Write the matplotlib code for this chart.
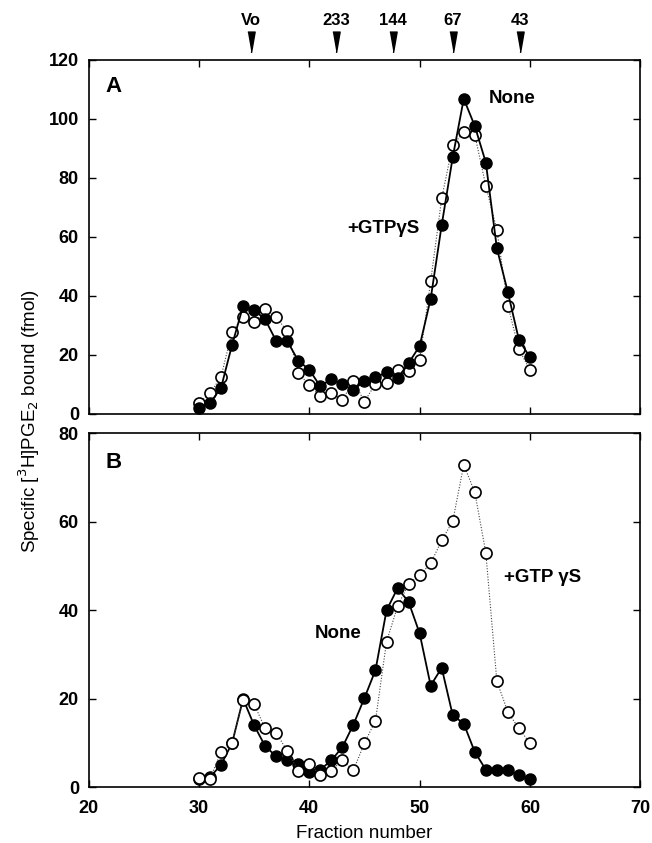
import numpy as np
import matplotlib
matplotlib.use("Agg")
from matplotlib import pyplot as plt
from matplotlib import transforms

plt.rcParams['font.family'] = ['Liberation Sans', 'DejaVu Sans']

# Fraction numbers (same for every series)
fractions = np.arange(30, 61)

# Panel A: specific binding (fmol)
a_none = [1.9, 3.6, 8.9, 23.4, 36.6, 35.3, 32.0, 24.7, 24.7, 18.0, 15.0,
          9.3, 11.9, 10.0, 8.1, 11.2, 12.4, 14.1, 12.1, 17.2, 23.0,
          39.0, 64.0, 87.0, 106.8, 97.6, 85.2, 56.2, 41.2, 25.1, 19.2]
a_gtp = [3.8, 7.0, 12.6, 27.9, 32.7, 31.0, 35.5, 32.7, 28.1, 13.8, 9.8,
         6.1, 7.1, 4.7, 11.2, 4.2, 10.2, 10.4, 14.9, 14.7, 18.2,
         44.9, 73.1, 91.2, 95.4, 94.6, 77.3, 62.4, 36.7, 21.9, 14.9]

# Panel B
b_none = [2.0, 2.3, 5.1, 10.0, 20.0, 14.0, 9.3, 7.0, 6.1, 5.2, 3.5,
          4.0, 6.1, 9.1, 14.2, 20.2, 26.5, 40.0, 45.0, 41.9, 34.8,
          23.0, 27.0, 16.3, 14.4, 8.0, 4.0, 4.0, 3.9, 2.7, 2.0]
b_gtp = [2.2, 2.0, 8.0, 10.0, 19.8, 18.8, 13.3, 12.3, 8.2, 3.8, 5.2,
         2.9, 3.8, 6.1, 3.9, 10.0, 15.1, 32.9, 40.9, 46.0, 47.9,
         50.6, 55.8, 60.1, 72.9, 66.7, 53.0, 24.0, 17.0, 13.3, 10.0]

# Molecular size markers (fraction position, label)
std_pos = [34.7, 42.4, 47.6, 53.0, 59.1]
std_labels = ['Vo', '233', '144', '67', '43']

fig = plt.figure(figsize=(6.52, 8.43), dpi=100)
ax_a = fig.add_axes([0.136, 0.509, 0.846, 0.42])
ax_b = fig.add_axes([0.136, 0.066, 0.846, 0.42])

filled_kw = dict(color='black', lw=1.3, marker='o', ms=8, mfc='black', mec='black')
open_kw = dict(color='#444444', lw=0.8, ls=(0, (1, 1.5)), marker='o', ms=8,
               mfc='white', mec='black', mew=1.2)

# panel A: filled drawn on top of open near the peaks
ax_a.plot(fractions, a_gtp, zorder=2, **open_kw)
ax_a.plot(fractions, a_none, zorder=3, **filled_kw)
# panel B: open circles sit on top
ax_b.plot(fractions, b_none, zorder=2, **filled_kw)
ax_b.plot(fractions, b_gtp, zorder=3, **open_kw)

for ax, ymax in ((ax_a, 120), (ax_b, 80)):
    ax.set_xlim(20, 70)
    ax.set_ylim(0, ymax)
    ax.set_xticks([20, 30, 40, 50, 60, 70])
    ax.set_yticks(np.arange(0, ymax + 1, 20))
    ax.tick_params(direction='in', top=True, right=True, length=5, width=1,
                   labelsize=13)
    ax.tick_params(axis='x', pad=9)
    ax.tick_params(axis='y', pad=7)
    for lbl in ax.get_yticklabels() + ax.get_xticklabels():
        lbl.set_fontweight('bold')
    for sp in ax.spines.values():
        sp.set_linewidth(1.2)

ax_a.tick_params(labelbottom=False)
ax_b.set_xlabel('Fraction number', fontsize=13.5, labelpad=6)

# panel letters and curve labels
ax_a.text(21.5, 111, 'A', fontsize=16, fontweight='bold', va='center')
ax_b.text(21.5, 73.5, 'B', fontsize=16, fontweight='bold', va='center')
ax_a.text(58.4, 107, 'None', fontsize=13.5, fontweight='bold', ha='center', va='center')
ax_a.text(46.7, 63, '+GTP\u03b3S', fontsize=13.5, fontweight='bold', ha='center', va='center')
ax_b.text(42.6, 34.8, 'None', fontsize=13.5, fontweight='bold', ha='center', va='center')
ax_b.text(61.1, 47.5, '+GTP \u03b3S', fontsize=13.5, fontweight='bold', ha='center', va='center')

# size standards above panel A
trans = transforms.blended_transform_factory(ax_a.transData, ax_a.transAxes)
tri = [(-0.35, 1.0), (0.35, 1.0), (0.0, -1.0)]
for xp, lab in zip(std_pos, std_labels):
    ax_a.plot([xp], [1.05], marker=tri, ms=15, color='black', transform=trans,
              clip_on=False)
    ax_a.text(xp, 1.09, lab, transform=trans, ha='center', va='bottom',
              fontsize=12, fontweight='bold')

fig.text(0.045, 0.5, 'Specific [$^{3}$H]PGE$_{2}$ bound (fmol)', rotation=90,
         ha='center', va='center', fontsize=13.5)

fig.savefig('out.png', dpi=100)
